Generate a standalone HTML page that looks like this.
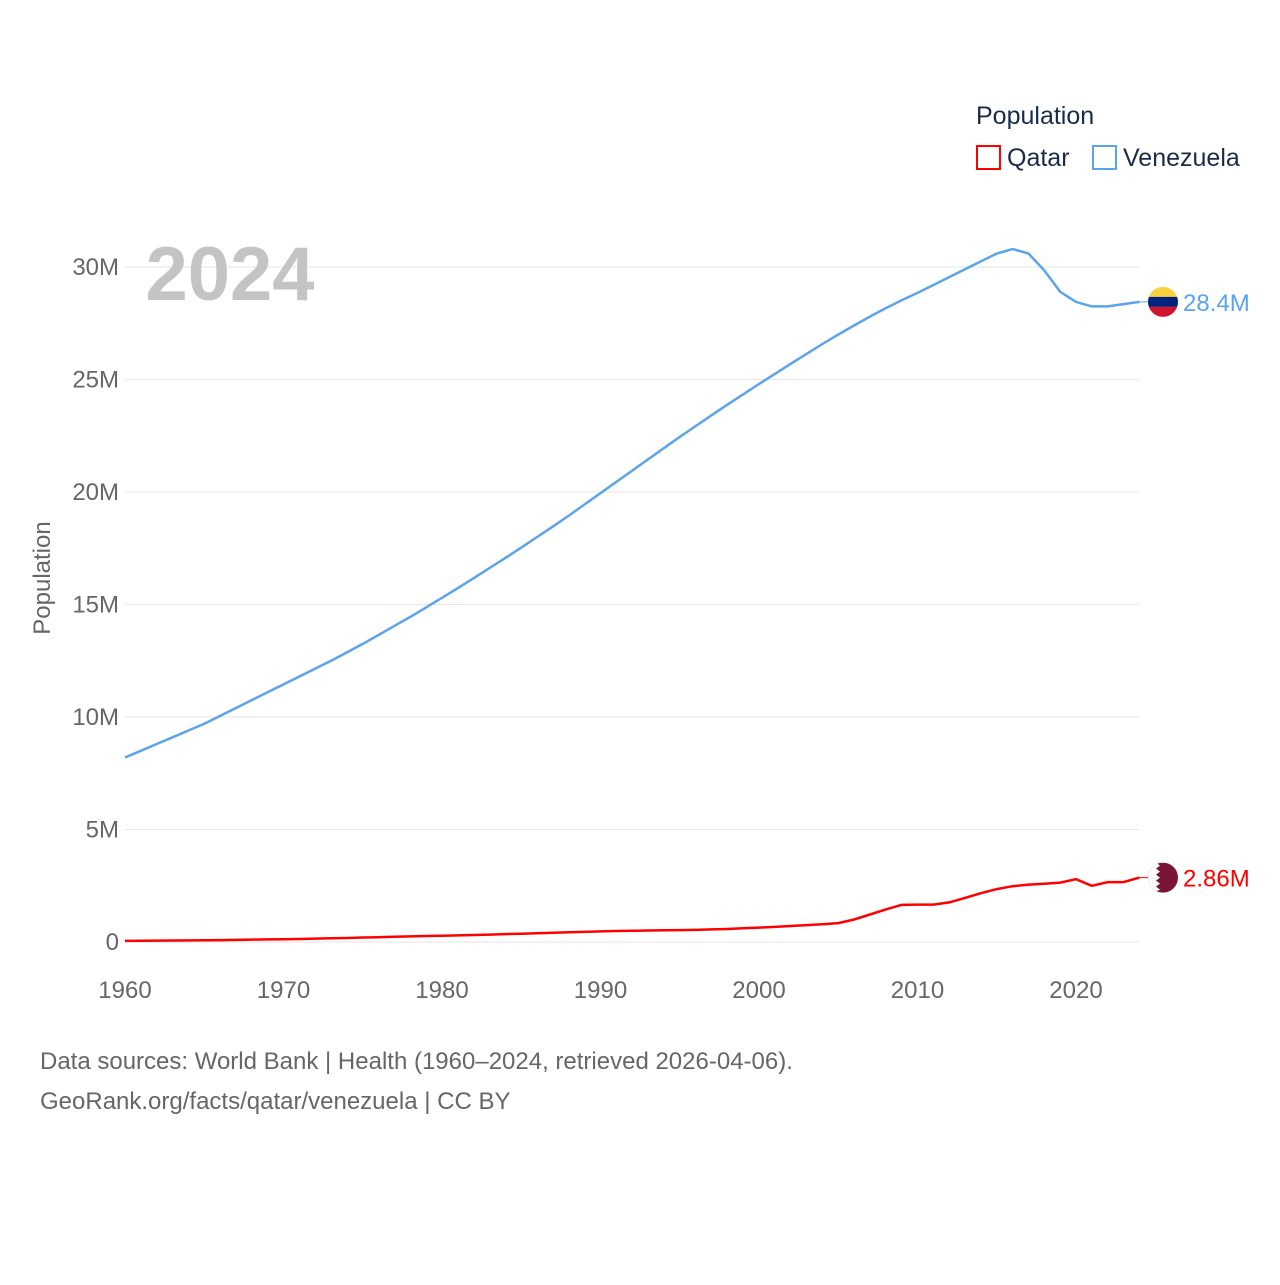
<!DOCTYPE html>
<html><head><meta charset="utf-8"><style>
body{margin:0;background:#fff;font-family:"Liberation Sans",sans-serif;}
svg text{font-family:"Liberation Sans",sans-serif;}
</style></head><body>
<svg id="chart" width="1280" height="1280" viewBox="0 0 1280 1280">
<g id="grid"></g>
<g id="yticks"></g>
<g id="xticks"></g>
<text x="230" y="300" font-size="76" font-weight="bold" fill="#c4c4c4" text-anchor="middle">2024</text>
<text x="50" y="578" font-size="24" fill="#666" text-anchor="middle" transform="rotate(-90 50 578)">Population</text>
<g id="series"></g>
<text x="976" y="124" font-size="25" fill="#1a2b4a">Population</text>
<g><rect x="977" y="146" width="23" height="23" fill="none" stroke="#ff0000" stroke-width="2"/><text x="1007" y="166" font-size="25" fill="#1a2b4a">Qatar</text></g>
<g><rect x="1093" y="146" width="23" height="23" fill="none" stroke="#5ba4ec" stroke-width="2"/><text x="1123" y="166" font-size="25" fill="#1a2b4a">Venezuela</text></g>
<text x="40" y="1069" font-size="24" fill="#666">Data sources: World Bank | Health (1960–2024, retrieved 2026-04-06).</text>
<text x="40" y="1109" font-size="24" fill="#666">GeoRank.org/facts/qatar/venezuela | CC BY</text>
</svg>
<script>
const years=[];for(let y=1960;y<=2024;y++)years.push(y);
const venezuela=[8.2,8.5,8.8,9.1,9.4,9.7,10.05,10.4,10.75,11.1,
11.45,11.8,12.15,12.5,12.87,13.25,13.65,14.05,14.45,14.87,
15.3,15.73,16.17,16.62,17.07,17.53,18.0,18.47,18.95,19.45,
19.95,20.45,20.95,21.45,21.95,22.45,22.93,23.41,23.88,24.34,
24.8,25.25,25.7,26.14,26.58,27.0,27.4,27.8,28.17,28.52,
28.85,29.2,29.55,29.9,30.25,30.6,30.8,30.6,29.85,28.9,28.45,28.25,28.25,28.35,28.45];
const qatar=[0.05,0.055,0.06,0.065,0.07,0.075,0.085,0.095,0.105,0.115,0.12,0.135,0.15,0.165,0.18,0.2,0.215,0.23,0.25,0.265,0.28,0.295,0.31,0.33,0.35,0.37,0.39,0.41,0.43,0.45,0.47,0.49,0.5,0.51,0.52,0.53,0.54,0.56,0.58,0.61,0.64,0.67,0.71,0.75,0.79,0.84,1.0,1.22,1.45,1.65,1.66,1.66,1.76,1.96,2.17,2.35,2.48,2.55,2.59,2.64,2.79,2.50,2.66,2.66,2.86];
const yTicks=[0,5,10,15,20,25,30];
const yLabels=["0","5M","10M","15M","20M","25M","30M"];
const xTicks=[1960,1970,1980,1990,2000,2010,2020];
const NS="http://www.w3.org/2000/svg";
const X=y=>125+(y-1960)*(1076-125)/60;
const Y=v=>942-v*22.5;
function mk(t,a,p){const e=document.createElementNS(NS,t);for(const k in a)e.setAttribute(k,a[k]);p.appendChild(e);return e;}
const grid=document.getElementById('grid'),yt=document.getElementById('yticks'),xt=document.getElementById('xticks'),ser=document.getElementById('series');
yTicks.forEach((v,i)=>{
 const l=mk('line',{x1:125,x2:1139,y1:Y(v),y2:Y(v),stroke:'#e6e6e6','stroke-width':1},grid);
 
 
 const t=mk('text',{x:119,y:Y(v)+8,'font-size':24,fill:'#666','text-anchor':'end'},yt);t.textContent=yLabels[i];
 
 
});
xTicks.forEach(v=>{
 const t=mk('text',{x:X(v),y:998,'font-size':24,fill:'#666','text-anchor':'middle'},xt);t.textContent=v;
 
 
});
function line(data,color,name,label,flag){
 const d=data.map((v,i)=>(i?'L':'M')+X(years[i]).toFixed(1)+','+Y(v).toFixed(1)).join('');
 const p=mk('path',{d:d,fill:'none',stroke:color,'stroke-width':2.5},ser);
 
 
 const last=data[data.length-1],ly=Y(last);
 mk('line',{x1:X(2024),x2:1150,y1:ly,y2:ly,stroke:color,'stroke-width':1},ser);
 const g=mk('g',{},ser);
 
 
 if(flag==='ve'){
  mk('clipPath',{id:'cv'},g);mk('circle',{cx:1163,cy:ly,r:15},g.lastChild);
  const gg=mk('g',{'clip-path':'url(#cv)'},g);
  mk('rect',{x:1148,y:ly-15,width:30,height:10,fill:'#f9d13e'},gg);
  mk('rect',{x:1148,y:ly-5,width:30,height:10,fill:'#00247d'},gg);
  mk('rect',{x:1148,y:ly+5,width:30,height:10,fill:'#cf142b'},gg);
 }else{
  mk('clipPath',{id:'cq'},g);mk('circle',{cx:1163,cy:ly,r:15},g.lastChild);
  const gg=mk('g',{'clip-path':'url(#cq)'},g);
  mk('rect',{x:1148,y:ly-15,width:30,height:30,fill:'#7a1538'},gg);
  mk('path',{d:`M1148,${ly-15}h8l4,3l-4,3l4,3l-4,3l4,3l-4,3l4,3l-4,3l4,3l-4,2h-8z`,fill:'#fff'},gg);
 }
 const t=mk('text',{x:1183,y:ly+9,'font-size':24,fill:color},ser);t.textContent=label;
 
 
}
line(venezuela,'#5ba4ec','venezuela','28.4M','ve');
line(qatar,'#ff0000','qatar','2.86M','qa');
</script>
</body></html>
